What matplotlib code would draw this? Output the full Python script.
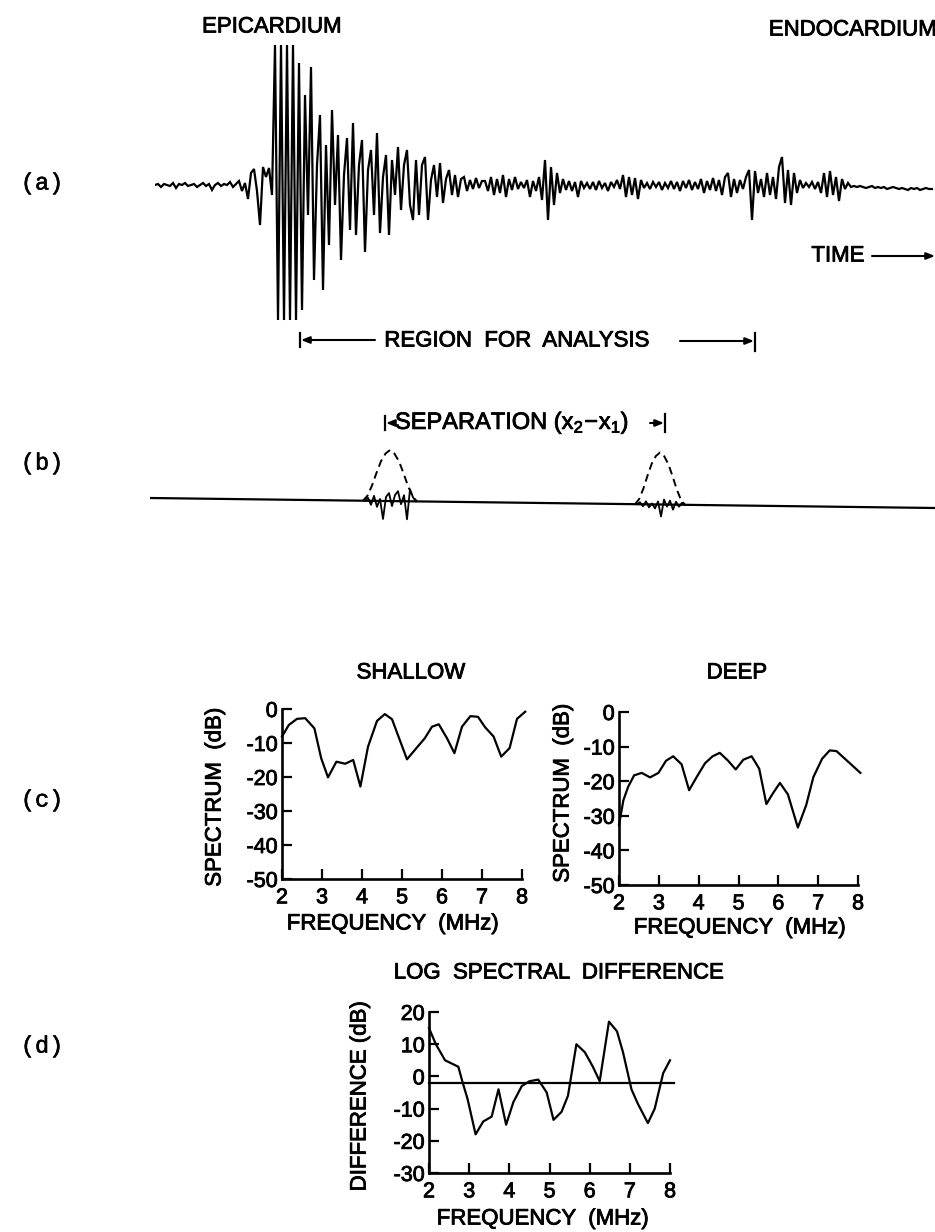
import matplotlib
matplotlib.use("Agg")
import matplotlib.pyplot as plt
import matplotlib.patheffects as pe
import numpy as np

plt.rcParams['font.family'] = ['Liberation Sans', 'DejaVu Sans']
plt.rcParams['axes.unicode_minus'] = False

# ---------------- data ----------------
# (a) RF echo trace (amplitude in display units, one sample per step)
wave = [
    0, 1, -2, 1, 0, -1, 2, -3, 1, 0, 2, -1, 0, 1, -2, 0, 2, -1, 1, -5, 0, 2, -1, 1, 0, 3, -2, 1, 4, -6,
    2, -14, 12, 16, -6, -40, 18, 8, 17, -10,
    140, -135, 140, -135, 140, -135, 140, -135, 122, -125,
    90, -30, 118, -95, 20, 70, -105, 40, -60, 75,
    -20, 50, -75, 10, 47, -45, 62, -50, 20, 45,
    -67, 15, 35, -30, 52, -48, 8, 30, -50, 25,
    -10, 38, -25, 20, 35, -20, -35, 25, -30, 20,
    28, -35, 5, 20, -12, 22, -18, 6, 15, -10,
    10, -12, 6, 8, -6, 5, -4, 7, -3, 4,
    4, -6, 8, -10, 6, -8, 10, -12, 6, -5,
    8, -4, 3, -3, 5, -12, 4, -6, 8, -15,
    25, -35, 18, -20, 12, -8, 6, -5, 4, -6,
    3, -12, 4, -3, 2, -4, 3, -5, 4, -3,
    2, -6, 3, -2, 5, -4, 10, -12, 8, -10,
    7, -14, 5, -3, 2, -4, 3, -2, 3, -5,
    2, -3, 4, -4, 3, -6, 4, -3, 5, -5,
    3, -4, 6, -8, 4, -5, 7, -6, 5, -10,
    8, 12, -12, 6, -8, 5, -4, 8, 15, -35,
    14, -8, 6, -12, 12, -10, 8, -14, 18, 28,
    -18, 15, -20, 12, -8, 5, -3, 2, -2, 3,
    -4, 3, -8, 12, -12, 14, -10, 8, -16, 6,
    -4, 2, -2, -1, -2, -1, -2, -3, -2, -1,
    -3, -2, -3, -2, -4, -3, -2, -3, -4, -3,
    -4, -5, -3, -4, -3, -5, -4, -3, -4, -4,
]

# (b) windowed segments
baseline_t = [0, 785]
baseline_level = [0, -10]
window_centers = [240, 510]
window_halfwidths = [27, 25]
window_heights = [51, 52]
window_shape = [0, 0.1, 0.3, 0.55, 0.78, 0.93, 1.0, 0.93, 0.78, 0.55, 0.3, 0.1, 0]
seg1_start = 215
seg1 = [0, 3, -4, 5, -6, 2, -18, 4, 8, -5, 6, 10, -3, 6, -18, 12, 4, 0]
seg2_start = 487
seg2 = [0, 2, -2, 3, -3, 1, -4, 3, -12, 5, -2, 4, -5, 3, -2, 2, 0]

# (c) spectra
shallow_f = [2.0, 2.17, 2.375, 2.58, 2.81, 2.98, 3.15, 3.36, 3.58, 3.78, 3.96, 4.15, 4.375, 4.57,
             4.75, 5.125, 5.36, 5.57, 5.75, 5.92, 6.125, 6.31, 6.5, 6.71, 6.9, 7.08, 7.29, 7.48,
             7.69, 7.875, 8.08]
shallow_db = [-8.1, -4.7, -2.9, -2.7, -5.7, -14.5, -20.1, -15.5, -16.1, -15.0, -22.8, -11.1, -3.5, -1.5,
              -3.0, -14.8, -11.5, -8.6, -5.2, -4.5, -8.6, -13.0, -5.2, -2.1, -2.3, -5.4, -8.1, -14.0,
              -11.5, -2.9, -0.8]
deep_f = [2.0, 2.11, 2.23, 2.38, 2.57, 2.78, 2.99, 3.18, 3.36, 3.57, 3.76, 3.95, 4.16, 4.35, 4.53,
          4.74, 4.93, 5.12, 5.33, 5.52, 5.7, 5.87, 6.04, 6.24, 6.49, 6.7, 6.88, 7.1, 7.29, 7.46,
          7.67, 7.88, 8.06]
deep_db = [-32.7, -25.5, -21.6, -18.3, -17.6, -18.9, -17.6, -14.1, -12.8, -15.1, -22.6, -18.8, -14.8,
           -12.8, -11.8, -14.1, -16.6, -13.8, -12.8, -16.4, -26.6, -23.4, -20.5, -23.8, -33.4, -26.9,
           -18.8, -13.5, -11.1, -11.3, -13.5, -15.7, -17.6]

# (d) log spectral difference
diff_f = [2.0, 2.17, 2.4, 2.73, 2.84, 2.96, 3.16, 3.35, 3.56, 3.73, 3.92, 4.1, 4.31, 4.5, 4.72,
          4.93, 5.1, 5.3, 5.46, 5.67, 5.88, 6.08, 6.25, 6.48, 6.68, 6.83, 7.04, 7.2, 7.45, 7.62,
          7.83, 8.0]
diff_db = [15, 10, 5, 3, -2, -7, -18, -14, -12.5, -4, -15, -8, -3, -1.5, -1, -5, -13.5, -11, -6,
           10, 7.5, 3, -1.5, 17, 14, 7.5, -4, -8.5, -14.5, -10, 1, 5]
diff_mean = -2
diff_mean_f = [2.0, 8.1]

freq_ticks = [2, 3, 4, 5, 6, 7, 8]
spec_ticks = [0, -10, -20, -30, -40, -50]
diff_ticks = [20, 10, 0, -10, -20, -30]

# ---------------- layout ----------------
W, H = 935, 1232
fig = plt.figure(figsize=(W / 100, H / 100), dpi=100)
fig.patch.set_facecolor('white')

THICK = [pe.withStroke(linewidth=0.6, foreground='black')]


def px_axes(x0, y0, x1, y1):
    return fig.add_axes([x0 / W, 1 - y1 / H, (x1 - x0) / W, (y1 - y0) / H])


LW = 1.6
TXT = 16

# (a)
axa = px_axes(155, 40, 935, 325)
axa.plot(np.arange(len(wave)), wave, color='black', lw=1.6, solid_joinstyle='miter')
axa.set_xlim(0, len(wave))
axa.set_ylim(-140, 145)
axa.axis('off')

# (b)
axb = px_axes(150, 430, 935, 530)
axb.plot(baseline_t, baseline_level, color='black', lw=LW)
for c, hw, h in zip(window_centers, window_halfwidths, window_heights):
    t = np.linspace(c - hw, c + hw, len(window_shape))
    base = np.interp(t, baseline_t, baseline_level)
    axb.plot(t, base + h * np.array(window_shape), color='black', lw=1.4, ls=(0, (4, 2.5)))
for start, seg in [(seg1_start, seg1), (seg2_start, seg2)]:
    t = start + 3 * np.arange(len(seg))
    base = np.interp(t, baseline_t, baseline_level)
    axb.plot(t, base + np.array(seg), color='black', lw=1.3)
axb.set_xlim(0, 785)
axb.set_ylim(-32, 68)
axb.axis('off')


def style(ax, xlim, ylim, yticks):
    ax.set_xlim(*xlim)
    ax.set_ylim(*ylim)
    for s in ['top', 'right']:
        ax.spines[s].set_visible(False)
    for s in ['left', 'bottom']:
        ax.spines[s].set_linewidth(1.9)
    ax.set_xticks(freq_ticks)
    ax.set_yticks(yticks)
    ax.tick_params(axis='both', direction='in', length=7, width=1.6, labelsize=15.5)
    ax.tick_params(axis='x', pad=6)
    ax.tick_params(axis='y', pad=3)
    for lbl in ax.get_xticklabels() + ax.get_yticklabels():
        lbl.set_path_effects(THICK)
    ax.patch.set_alpha(0)


axs = px_axes(282, 709, 522, 879)
axs.plot(shallow_f, shallow_db, color='black', lw=LW, clip_on=False)
style(axs, (2, 8), (-50, 0), spec_ticks)

axd = px_axes(619, 712, 858, 885)
axd.plot(deep_f, deep_db, color='black', lw=LW, clip_on=False)
style(axd, (2, 8), (-50, 0), spec_ticks)

axl = px_axes(429, 1012, 670, 1173)
axl.plot(diff_f, diff_db, color='black', lw=LW, clip_on=False)
axl.plot(diff_mean_f, [diff_mean, diff_mean], color='black', lw=LW, clip_on=False)
style(axl, (2, 8), (-30, 20), diff_ticks)

# overlay for text and annotation
ov = fig.add_axes([0, 0, 1, 1])
ov.set_xlim(0, W)
ov.set_ylim(H, 0)
ov.axis('off')
ov.patch.set_alpha(0)

kw = dict(ha='center', va='center', fontsize=TXT, color='black', path_effects=THICK)
ov.text(272, 27, 'EPICARDIUM', **kw)
ov.text(853, 30, 'ENDOCARDIUM', **kw)
ov.text(838, 256, 'TIME', **kw)
ov.text(517, 341, 'REGION  FOR  ANALYSIS', **kw)
ov.text(395, 423, 'SEPARATION (' + r'$\mathregular{x_2\!-\!x_1}$' + ')', ha='left', va='center',
        fontsize=17, path_effects=THICK)
ov.text(411, 673, 'SHALLOW', **kw)
ov.text(737, 673, 'DEEP', **kw)
ov.text(215, 797, 'SPECTRUM  (dB)', rotation=90, **kw)
ov.text(563, 793, 'SPECTRUM  (dB)', rotation=90, **kw)
ov.text(393, 924, 'FREQUENCY  (MHz)', **kw)
ov.text(740, 928, 'FREQUENCY  (MHz)', **kw)
ov.text(559, 973, 'LOG  SPECTRAL  DIFFERENCE', **kw)
ov.text(360, 1096, 'DIFFERENCE (dB)', rotation=90, **kw)
ov.text(543, 1219, 'FREQUENCY  (MHz)', **kw)

pkw = dict(ha='center', va='center', fontsize=17, family='Liberation Mono',
           path_effects=[pe.withStroke(linewidth=0.4, foreground='black')])
ov.text(42, 183, '(a)', **pkw)
ov.text(42, 463, '(b)', **pkw)
ov.text(42, 800, '(c)', **pkw)
ov.text(42, 1046, '(d)', **pkw)

akw = dict(arrowstyle='-|>,head_length=0.5,head_width=0.2', color='black', lw=1.5,
           shrinkA=0, shrinkB=0)
# TIME arrow
ov.annotate('', xy=(935, 256), xytext=(872, 256), arrowprops=akw)
# region for analysis bracket
ov.plot([300, 300], [333, 347], color='black', lw=1.6)
ov.plot([755, 755], [333, 351], color='black', lw=1.6)
ov.annotate('', xy=(301, 340), xytext=(375, 340), arrowprops=akw)
ov.annotate('', xy=(754, 341), xytext=(680, 341), arrowprops=akw)
# separation bracket
ov.plot([385, 385], [416, 430], color='black', lw=1.6)
ov.plot([665, 665], [414, 432], color='black', lw=1.6)
ov.annotate('', xy=(386, 423), xytext=(394, 423), arrowprops=akw)
ov.annotate('', xy=(664, 423), xytext=(650, 423), arrowprops=akw)

fig.savefig('out.png', dpi=100, facecolor='white')
